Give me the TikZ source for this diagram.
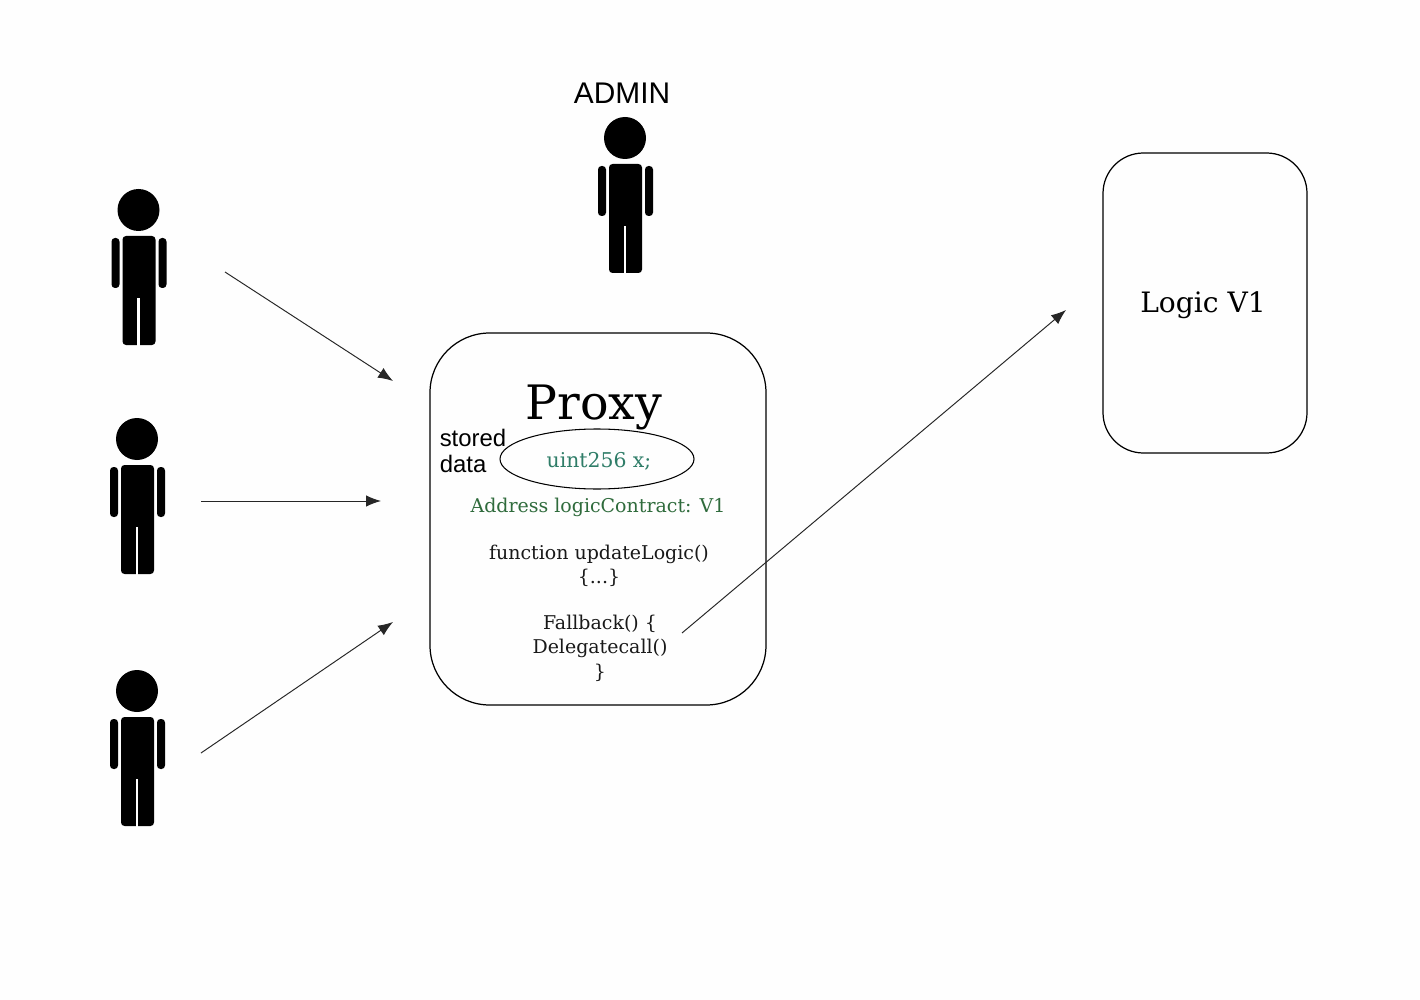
\documentclass[tikz,border=0pt]{standalone}
\usepackage{fontspec}
\setmainfont{DejaVu Serif}
\newfontfamily\labelfont{Liberation Sans}
\usetikzlibrary{arrows.meta,positioning,shapes.geometric}

\definecolor{datagreen}{HTML}{2F7D68}
\definecolor{addrgreen}{HTML}{2F6B3C}

\begin{document}
\begin{tikzpicture}[x=0.02cm,y=-0.02cm]
        \tikzset{box/.style = {shape=rectangle,draw,line width=0.7pt,inner sep=0}}
        \tikzset{edge/.style = {-{Latex[length=8.5pt,width=6.5pt]},line width=0.55pt,black!85}}
        \tikzset{code/.style = {font=\fontsize{10.8}{14}\selectfont,align=center,inner sep=0,text=black!90}}
        \tikzset{tag/.style = {font=\labelfont\fontsize{13.6}{15.3}\selectfont,align=left,inner sep=0}}
        \tikzset{person/.pic = {
            \fill (0,0) circle (21);
            \fill[rounded corners=2pt] (-16,26) rectangle (17,135);
            \fill[rounded corners=2pt] (-27,28) rectangle (-19,78);
            \fill[rounded corners=2pt] (20,28) rectangle (28,78);
            \fill[white] (-1.2,88) rectangle (1.2,136);
        }}
        \fill[black!0.5] (0,0) rectangle (1420,1000);
        \useasboundingbox (0,0) rectangle (1420,1000);
        % people
        \pic at (138.5,210) {person};
        \pic at (137,439) {person};
        \pic at (137,691) {person};
        \pic at (625,138) {person};
        \node[tag,font=\labelfont\fontsize{17}{18}\selectfont] (admin) at (622,93) {ADMIN};
        % boxes
        \node[box,minimum width=336*0.02cm,minimum height=372*0.02cm,rounded corners=34pt] (proxy) at (598,519) {};
        \node[box,minimum width=204*0.02cm,minimum height=300*0.02cm,rounded corners=23pt] (logic) at (1205,303) {};
        \node[code,font=\fontsize{16}{18}\selectfont,text=black] (logicname) at (1203,305) {Logic V1};
        % inside proxy
        \node[code,font=\fontsize{27}{29}\selectfont,text=black] (proxyname) at (594,407) {Proxy};
        \node[tag] (stored) at (473,451) {stored\\data};
        \node[shape=ellipse,draw,line width=0.6pt,minimum width=194*0.02cm,minimum height=60*0.02cm,inner sep=0] (data) at (597,459) {};
        \node[code,text=datagreen,font=\fontsize{11.6}{14}\selectfont] (x) at (599,461) {uint256 x;};
        \node[code,text=addrgreen] (address) at (598,507) {Address logicContract: V1};
        \node[code] (update) at (599,566) {function updateLogic()\\\{...\}};
        \node[code] (fallback) at (600,648) {Fallback() \{\\Delegatecall()\\\}};
        % arrow ends
        \coordinate (user1) at (225,272);
        \coordinate (user2) at (201,501);
        \coordinate (user3) at (201,753);
        \coordinate (in1) at (393,381);
        \coordinate (in2) at (381,501);
        \coordinate (in3) at (393,622);
        \coordinate (call) at (682,633);
        \coordinate (target) at (1066,310);
        %edges
        \draw[edge] (user1) to (in1);
        \draw[edge] (user2) to (in2);
        \draw[edge] (user3) to (in3);
        \draw[edge] (call) to (target);
    \end{tikzpicture}
\end{document}
